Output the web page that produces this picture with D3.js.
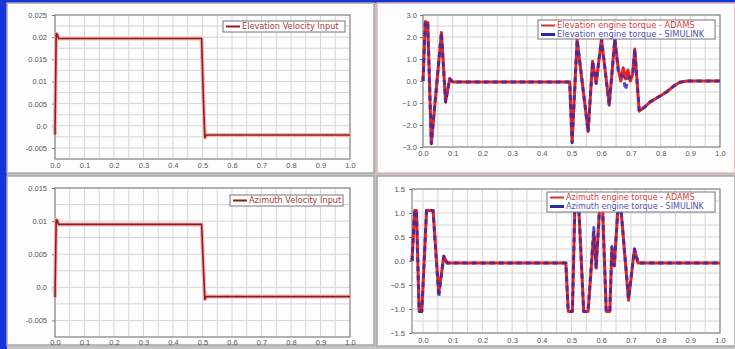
<!DOCTYPE html>
<html>
<head>
<meta charset="utf-8">
<script src="https://cdn.jsdelivr.net/npm/d3@7"></script>
<style>
  html, body { margin: 0; padding: 0; background: #c4c4c4; }
  svg { display: block; }
</style>
</head>
<body>
<svg id="chart" width="735" height="349"></svg>
<script>
// ---- data ----
const xTicks = [0, 0.1, 0.2, 0.3, 0.4, 0.5, 0.6, 0.7, 0.8, 0.9, 1.0];

// elevation velocity input
const elevTime = [0, 0.004, 0.008, 0.012, 0.497, 0.503, 0.508, 0.513, 1.0];
const elevVel = [-0.002, 0.0208, 0.0206, 0.0197, 0.0197, 0.006, -0.0027, -0.0021, -0.0021];
const elevVelTicks = [0.025, 0.02, 0.015, 0.01, 0.005, 0.0, -0.005];
const elevVelLabels = ["0.025", "0.02", "0.015", "0.01", "0.005", "0.0", "-0.005"];

// azimuth velocity input
const aziTime = [0, 0.004, 0.008, 0.012, 0.497, 0.503, 0.508, 0.513, 1.0];
const aziVel = [-0.0015, 0.0102, 0.0101, 0.0095, 0.0095, 0.003, -0.0018, -0.0014, -0.0014];
const aziVelTicks = [0.015, 0.01, 0.005, 0.0, -0.005];
const aziVelLabels = ["0.015", "0.01", "0.005", "0.0", "-0.005"];

// elevation engine torque
const elevTqTime = [0, 0.008, 0.016, 0.028, 0.062, 0.076, 0.09, 0.1, 0.494, 0.502, 0.519, 0.556, 0.571, 0.583, 0.601, 0.627, 0.646, 0.658, 0.666, 0.674, 0.682, 0.69, 0.698, 0.706, 0.713, 0.728, 0.745, 0.765, 0.79, 0.82, 0.845, 0.865, 0.89, 1.0];
const elevTqAdams = [0.0, 2.7, 2.65, -2.85, 2.2, -0.95, 0.1, -0.05, -0.05, -2.8, 1.87, -2.3, 0.9, -0.1, 1.9, -1.1, 1.9, 0.5, 0.0, 0.6, 0.1, 0.5, 0.0, 0.3, 1.45, -1.37, -1.2, -0.95, -0.75, -0.5, -0.22, -0.06, 0.0, 0.0];
const elevTqSim = [0.0, 2.7, 2.65, -2.85, 2.2, -0.95, 0.1, -0.05, -0.05, -2.8, 1.87, -2.3, 0.9, -0.1, 1.9, -1.1, 1.9, 0.4, 0.3, 0.2, -0.4, 0.1, 0.2, 0.3, 1.45, -1.37, -1.2, -0.95, -0.75, -0.5, -0.22, -0.06, 0.0, 0.0];
const elevTqTicks = [3, 2, 1, 0, -1, -2, -3];

// azimuth engine torque
const aziTqTime = [-0.037, -0.028, -0.022, -0.013, -0.004, 0.012, 0.034, 0.053, 0.07, 0.081, 0.481, 0.489, 0.503, 0.511, 0.525, 0.541, 0.556, 0.575, 0.583, 0.594, 0.605, 0.617, 0.629, 0.636, 0.644, 0.656, 0.667, 0.692, 0.712, 0.724, 1.0];
const aziTqAdams = [0, 1.05, 1.05, -1.05, -1.05, 1.05, 1.05, -0.68, 0.1, -0.04, -0.04, -1.05, -1.05, 1.05, 1.05, -1.05, -1.05, 0.6, -0.15, 1.05, 1.05, -1.05, -1.05, 0.27, -0.1, 1.05, 1.05, -0.82, 0.25, -0.04, -0.04];
const aziTqSim = [0, 1.05, 1.05, -1.05, -1.05, 1.05, 1.05, -0.75, 0.1, -0.04, -0.04, -1.05, -1.05, 1.05, 1.05, -1.05, -1.05, 0.7, -0.15, 1.05, 1.05, -1.05, -1.05, 0.3, -0.1, 1.05, 1.05, -0.78, 0.25, -0.04, -0.04];
const aziTqTicks = [1.5, 1.0, 0.5, 0.0, -0.5, -1.0, -1.5];

// ---- drawing ----
const svg = d3.select("#chart");
const fmt1 = d3.format(".1f");

// blue window edge + panel backgrounds
svg.append("rect").attr("x", 0).attr("y", 0).attr("width", 735).attr("height", 3).attr("fill", "#1634d8");
svg.append("rect").attr("x", 0).attr("y", 0).attr("width", 7).attr("height", 349).attr("fill", "#1634d8");

const panels = [
  { x: 7, y: 3, w: 367, h: 170, stroke: "#a8a8a8" },
  { x: 377, y: 3, w: 358, h: 170, stroke: "#e2b4b4" },
  { x: 7, y: 176, w: 367, h: 169, stroke: "#a8a8a8" },
  { x: 377, y: 176, w: 358, h: 170, stroke: "#a8a8a8" }
];
svg.selectAll("rect.panel").data(panels).enter().append("rect")
  .attr("class", "panel")
  .attr("x", d => d.x).attr("y", d => d.y)
  .attr("width", d => d.w).attr("height", d => d.h)
  .attr("fill", "#fdfdfd")
  .attr("stroke", d => d.stroke).attr("stroke-width", 1.5);

function drawPlot(opt) {
  const g = svg.append("g");
  const x = d3.scaleLinear().domain(opt.xDomain).range([opt.left, opt.right]);
  const y = d3.scaleLinear().domain(opt.yDomain).range([opt.bottom, opt.top]);

  // grid
  const xGrid = d3.range(0, 1.0001, 0.05);
  const yGrid = d3.range(opt.yDomain[0], opt.yDomain[1] + opt.yStep / 10, opt.yStep);
  g.selectAll("line.vg").data(xGrid).enter().append("line")
    .attr("x1", d => x(d)).attr("x2", d => x(d))
    .attr("y1", opt.top).attr("y2", opt.bottom)
    .attr("stroke", "#d6d6d6").attr("stroke-width", 1);
  g.selectAll("line.hg").data(yGrid).enter().append("line")
    .attr("x1", opt.left).attr("x2", opt.right)
    .attr("y1", d => y(d)).attr("y2", d => y(d))
    .attr("stroke", "#d6d6d6").attr("stroke-width", 1);

  // frame
  g.append("rect")
    .attr("x", opt.left).attr("y", opt.top)
    .attr("width", opt.right - opt.left).attr("height", opt.bottom - opt.top)
    .attr("fill", "none").attr("stroke", "#8a8a8a").attr("stroke-width", 1.2);

  // axes
  const yAxis = d3.axisLeft(y).tickValues(opt.yTicks).tickSize(3).tickPadding(opt.yPad || 5)
    .tickFormat((d, i) => opt.yLabels[i]);
  g.append("g").attr("transform", `translate(${opt.left},0)`).call(yAxis)
    .call(a => a.select(".domain").remove())
    .call(a => a.selectAll("line").attr("stroke", "#777"))
    .call(a => a.selectAll("text").attr("fill", "#555").style("font", "7.5px Arial"));
  const xAxis = d3.axisBottom(x).tickValues(xTicks).tickSize(0).tickPadding(opt.xPad)
    .tickFormat(fmt1);
  g.append("g").attr("transform", `translate(0,${opt.bottom})`).call(xAxis)
    .call(a => a.select(".domain").remove())
    .call(a => a.selectAll("text").attr("fill", "#555").style("font", "7.5px Arial"));

  // series
  opt.series.forEach(s => {
    const pts = s.t.map((t, i) => [t, s.v[i]]);
    const line = d3.line().x(d => x(d[0])).y(d => y(d[1]));
    if (s.glow) {
      g.append("path").datum(pts).attr("d", line)
        .attr("fill", "none").attr("stroke", s.glow).attr("stroke-width", 4)
        .attr("stroke-linejoin", "round");
    }
    g.append("path").datum(pts).attr("d", line)
      .attr("fill", "none").attr("stroke", s.color).attr("stroke-width", s.width)
      .attr("stroke-dasharray", s.dash || null)
      .attr("stroke-linejoin", "round").attr("opacity", s.opacity || 1);
  });

  // legend
  const L = opt.legend;
  g.append("rect").attr("x", L.x).attr("y", L.y).attr("width", L.w).attr("height", L.h)
    .attr("fill", "#fff").attr("stroke", "#777").attr("stroke-width", 1);
  L.items.forEach((it, i) => {
    const cy = L.y + 5.5 + i * 9;
    g.append("line").attr("x1", L.x + 3).attr("x2", L.x + 17).attr("y1", cy).attr("y2", cy)
      .attr("stroke", it.color).attr("stroke-width", it.width || 2);
    g.append("text").attr("x", L.x + 19).attr("y", cy + 2.8)
      .attr("fill", it.text).style("font", `${L.font || 8}px 'DejaVu Sans'`).text(it.label);
  });
}

drawPlot({
  left: 55, right: 350, top: 15, bottom: 159,
  xDomain: [0, 1], yDomain: [-0.0075, 0.025], yStep: 0.0025,
  yTicks: elevVelTicks, yLabels: elevVelLabels, xPad: 4,
  series: [{ t: elevTime, v: elevVel, color: "#8e1c1c", width: 1.6, glow: "#f4b4b4" }],
  legend: { x: 223, y: 21, w: 122, h: 11, font: 8.2,
    items: [{ label: "Elevation Velocity Input", color: "#8e1c1c", text: "#a83838" }] }
});

drawPlot({
  left: 55, right: 350, top: 188, bottom: 337,
  xDomain: [0, 1], yDomain: [-0.0075, 0.015], yStep: 0.0025,
  yTicks: aziVelTicks, yLabels: aziVelLabels, xPad: 3,
  series: [{ t: aziTime, v: aziVel, color: "#8e1c1c", width: 1.6, glow: "#f4b4b4" }],
  legend: { x: 230, y: 195, w: 113, h: 11, font: 8.2,
    items: [{ label: "Azimuth Velocity Input", color: "#8e1c1c", text: "#a83838" }] }
});

drawPlot({
  left: 423, right: 720, top: 15, bottom: 147,
  xDomain: [0, 1], yDomain: [-3, 3], yStep: 0.5,
  yTicks: elevTqTicks, yLabels: elevTqTicks.map(fmt1), xPad: 4, yPad: 3,
  series: [
    { t: elevTqTime, v: elevTqAdams, color: "#e42424", width: 3 },
    { t: elevTqTime, v: elevTqSim, color: "#3a2aa8", width: 3, dash: "5,4", opacity: 0.85 }
  ],
  legend: { x: 538, y: 20, w: 177, h: 19, font: 8.3,
    items: [
      { label: "Elevation engine torque - ADAMS", color: "#d83030", text: "#d84040" },
      { label: "Elevation engine torque - SIMULINK", color: "#2a2aa0", text: "#5050b8", width: 3 }
    ] }
});

drawPlot({
  left: 412, right: 720, top: 189, bottom: 333,
  xDomain: [-0.037, 1], yDomain: [-1.5, 1.5], yStep: 0.25,
  yTicks: aziTqTicks, yLabels: aziTqTicks.map(fmt1), xPad: 5, yPad: 4,
  series: [
    { t: aziTqTime, v: aziTqAdams, color: "#e42424", width: 3 },
    { t: aziTqTime, v: aziTqSim, color: "#3a2aa8", width: 3, dash: "5,4", opacity: 0.85 }
  ],
  legend: { x: 547, y: 192, w: 168, h: 20, font: 8,
    items: [
      { label: "Azimuth engine torque - ADAMS", color: "#d83030", text: "#d84040" },
      { label: "Azimuth engine torque - SIMULINK", color: "#2a2aa0", text: "#5050b8", width: 3 }
    ] }
});
</script>
</body>
</html>
